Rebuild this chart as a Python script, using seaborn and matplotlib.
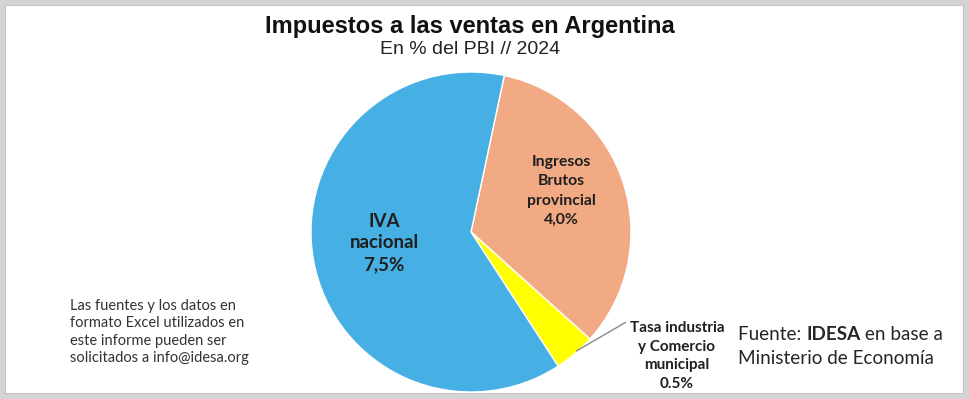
import numpy as np
import matplotlib
matplotlib.use("Agg")
import matplotlib.pyplot as plt
import seaborn as sns
from matplotlib.patches import Rectangle
from matplotlib import font_manager

categories = ["Ingresos Brutos provincial", "Tasa industria y Comercio municipal", "IVA nacional"]
values = [4.0, 0.5, 7.5]
value_labels = ["4,0%", "0.5%", "7,5%"]
colors = ["#F2AA84", "#FFFF00", "#46AFE3"]

sns.set_theme(style="white")
names = {f.name for f in font_manager.fontManager.ttflist}
narrow = "Liberation Sans Narrow" if "Liberation Sans Narrow" in names else "Liberation Sans"
body = "Lato"
plt.rcParams["font.family"] = [body, "DejaVu Sans"]

W, H = 970, 399
fig = plt.figure(figsize=(W / 100, H / 100), dpi=100)
fig.patch.set_facecolor("#d4d4d4")
fig.add_artist(Rectangle((5 / W, 6 / H), 958 / W, 388 / H, transform=fig.transFigure,
                         facecolor="white", edgecolor="#c4c4c4", lw=0.8, zorder=0))

def px(x, y):
    return x / W, 1 - y / H

cx, cy, r = 471, 232, 160
ax = fig.add_axes([(cx - r) / W, (H - cy - r) / H, 2 * r / W, 2 * r / H])
ax.set_facecolor("none")
wedges, _ = ax.pie(values, colors=colors, startangle=78, counterclock=False,
                   wedgeprops=dict(edgecolor="white", linewidth=1.0))
ax.set_xlim(-1, 1)
ax.set_ylim(-1, 1)
ax.axis("off")

fig.text(*px(470, 26), "Impuestos a las ventas en Argentina", ha="center", va="center",
         fontsize=17, fontweight="bold", family=narrow, color="#111111")
fig.text(*px(470, 50), "En % del PBI // 2024", ha="center", va="center",
         fontsize=14, family=narrow, color="#222222")

lab_col = "#1f1f1f"
fig.text(*px(384, 243), "IVA\nnacional\n" + value_labels[2], ha="center", va="center",
         fontsize=13.5, fontweight="bold", color=lab_col, linespacing=1.35)
fig.text(*px(561, 191), "Ingresos\nBrutos\nprovincial\n" + value_labels[0], ha="center", va="center",
         fontsize=11.3, fontweight="bold", color=lab_col, linespacing=1.5)
fig.text(*px(677, 356), "Tasa industria\ny Comercio\nmunicipal\n" + value_labels[1], ha="center", va="center",
         fontsize=11, fontweight="bold", color=lab_col, linespacing=1.45)

# leader line for small slice
w = wedges[1]
mid = np.deg2rad((w.theta1 + w.theta2) / 2)
ax.annotate("", xy=(0.99 * np.cos(mid), 0.99 * np.sin(mid)), xycoords="data",
            xytext=px(628, 321), textcoords="figure fraction",
            arrowprops=dict(arrowstyle="-", color="#8a8a8a", lw=1.0))

fig.text(*px(70, 332), "Las fuentes y los datos en\nformato Excel utilizados en\neste informe pueden ser\nsolicitados a info@idesa.org",
         ha="left", va="center", fontsize=10.5, color="#333333", linespacing=1.3)

fig.canvas.draw()
renderer = fig.canvas.get_renderer()
x0 = 738
y1 = 335
parts = [("Fuente: ", "normal"), ("IDESA", "bold"), (" en base a", "normal")]
xcur = x0
for txt, wgt in parts:
    t = fig.text(*px(xcur, y1), txt, ha="left", va="center", fontsize=13.6, fontweight=wgt,
                 color="#262626")
    bb = t.get_window_extent(renderer)
    xcur += bb.width
fig.text(*px(x0, 359), "Ministerio de Economía", ha="left", va="center", fontsize=13.6, color="#262626")

fig.savefig("out.png", dpi=100, facecolor=fig.get_facecolor())
